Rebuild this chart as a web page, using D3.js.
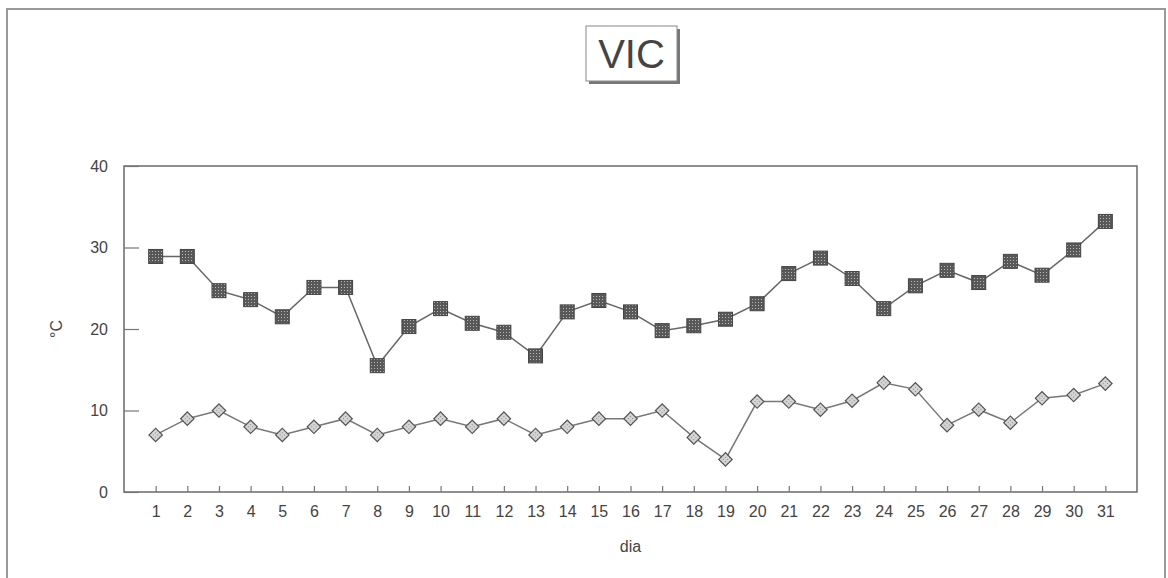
<!DOCTYPE html>
<html>
<head>
<meta charset="utf-8">
<script src="https://cdn.jsdelivr.net/npm/d3@7"></script>
<style>
  body { margin: 0; background: #fff; }
  text { font-family: "Liberation Sans", Arial, sans-serif; fill: #444; }
</style>
</head>
<body>
<div id="chart"></div>
<script>
// data
var days = d3.range(1, 32);
var tmax = [28.9, 28.9, 24.7, 23.6, 21.5, 25.1, 25.1, 15.5, 20.3, 22.5,
            20.7, 19.6, 16.7, 22.1, 23.5, 22.1, 19.8, 20.4, 21.2, 23.1,
            26.8, 28.7, 26.2, 22.5, 25.3, 27.2, 25.7, 28.3, 26.6, 29.7, 33.2];
var tmin = [7.0, 9.0, 10.0, 8.0, 7.0, 8.0, 9.0, 7.0, 8.0, 9.0,
            8.0, 9.0, 7.0, 8.0, 9.0, 9.0, 10.0, 6.7, 4.0, 11.1,
            11.1, 10.1, 11.2, 13.4, 12.6, 8.2, 10.1, 8.5, 11.5, 11.9, 13.3];
var yTicks = [0, 10, 20, 30, 40];

var svgWidth = 1168, svgHeight = 578;
var margin = { top: 166, right: 31, bottom: 86, left: 124 };
var width = svgWidth - margin.left - margin.right;
var height = svgHeight - margin.top - margin.bottom;

var svg = d3.select("#chart").append("svg")
  .attr("width", svgWidth)
  .attr("height", svgHeight);

// patterns for the hatched markers
var defs = svg.append("defs");
var pDark = defs.append("pattern").attr("id", "dark")
  .attr("width", 3).attr("height", 3).attr("patternUnits", "userSpaceOnUse");
pDark.append("rect").attr("width", 3).attr("height", 3).attr("fill", "#585858");
pDark.append("rect").attr("x", 1).attr("y", 1).attr("width", 1).attr("height", 1).attr("fill", "#b8b8b8");
var pLight = defs.append("pattern").attr("id", "light")
  .attr("width", 3).attr("height", 3).attr("patternUnits", "userSpaceOnUse");
pLight.append("rect").attr("width", 3).attr("height", 3).attr("fill", "#d4d4d4");
pLight.append("rect").attr("x", 1).attr("y", 1).attr("width", 1).attr("height", 1).attr("fill", "#8a8a8a");

// outer frame
svg.append("rect")
  .attr("x", 7).attr("y", 9)
  .attr("width", 1158).attr("height", 600)
  .attr("fill", "none").attr("stroke", "#9a9a9a").attr("stroke-width", 2);

// title box with shadow
svg.append("rect").attr("x", 589).attr("y", 29).attr("width", 91).attr("height", 55)
  .attr("fill", "#777");
svg.append("rect").attr("x", 586).attr("y", 26).attr("width", 91).attr("height", 55)
  .attr("fill", "#fff").attr("stroke", "#888").attr("stroke-width", 1);
svg.append("text")
  .attr("x", 631.5).attr("y", 68)
  .attr("text-anchor", "middle")
  .style("font-size", "40px")
  .text("VIC");

var chartGroup = svg.append("g")
  .attr("transform", `translate(${margin.left}, ${margin.top})`);

var xScale = d3.scaleLinear().domain([0, 32]).range([0, width]);
var yScale = d3.scaleLinear().domain([0, 40]).range([height, 0]);

// plot border
chartGroup.append("rect")
  .attr("width", width).attr("height", height)
  .attr("fill", "none").attr("stroke", "#6a6a6a").attr("stroke-width", 1.5);

// axes with inward ticks
var bottomAxis = d3.axisBottom(xScale).tickValues(days).tickSize(-6).tickPadding(14);
var leftAxis = d3.axisLeft(yScale).tickValues(yTicks).tickSize(-15).tickPadding(16);

var xAxisG = chartGroup.append("g")
  .attr("transform", `translate(0, ${height})`)
  .call(bottomAxis);
var yAxisG = chartGroup.append("g").call(leftAxis);

[xAxisG, yAxisG].forEach(function(g) {
  g.select(".domain").remove();
  g.selectAll("line").attr("stroke", "#777").attr("stroke-width", 1.2);
  g.selectAll("text").style("font-size", "16px").attr("fill", "#4a4a4a");
});

// axis titles
chartGroup.append("text")
  .attr("transform", "rotate(-90)")
  .attr("x", -(yScale(20)))
  .attr("y", -62)
  .attr("text-anchor", "middle")
  .style("font-size", "16px")
  .text("°C");

chartGroup.append("text")
  .attr("x", xScale(16))
  .attr("y", height + 60)
  .attr("text-anchor", "middle")
  .style("font-size", "16px")
  .text("dia");

var line = d3.line()
  .x((d, i) => xScale(days[i]))
  .y(d => yScale(d));

chartGroup.append("path").datum(tmax)
  .attr("d", line).attr("fill", "none")
  .attr("stroke", "#666").attr("stroke-width", 1.5);
chartGroup.append("path").datum(tmin)
  .attr("d", line).attr("fill", "none")
  .attr("stroke", "#777").attr("stroke-width", 1.5);

// square markers
chartGroup.selectAll(".sq").data(tmax).enter()
  .append("rect").attr("class", "sq")
  .attr("x", (d, i) => xScale(days[i]) - 7)
  .attr("y", d => yScale(d) - 7)
  .attr("width", 14).attr("height", 14)
  .attr("fill", "url(#dark)")
  .attr("stroke", "#444").attr("stroke-width", 1);

// diamond markers
var diamond = d3.symbol().type(d3.symbolSquare).size(90);
chartGroup.selectAll(".dm").data(tmin).enter()
  .append("path").attr("class", "dm")
  .attr("d", diamond)
  .attr("transform", (d, i) => `translate(${xScale(days[i])}, ${yScale(d)}) rotate(45)`)
  .attr("fill", "url(#light)")
  .attr("stroke", "#555").attr("stroke-width", 1.2);
</script>
</body>
</html>
